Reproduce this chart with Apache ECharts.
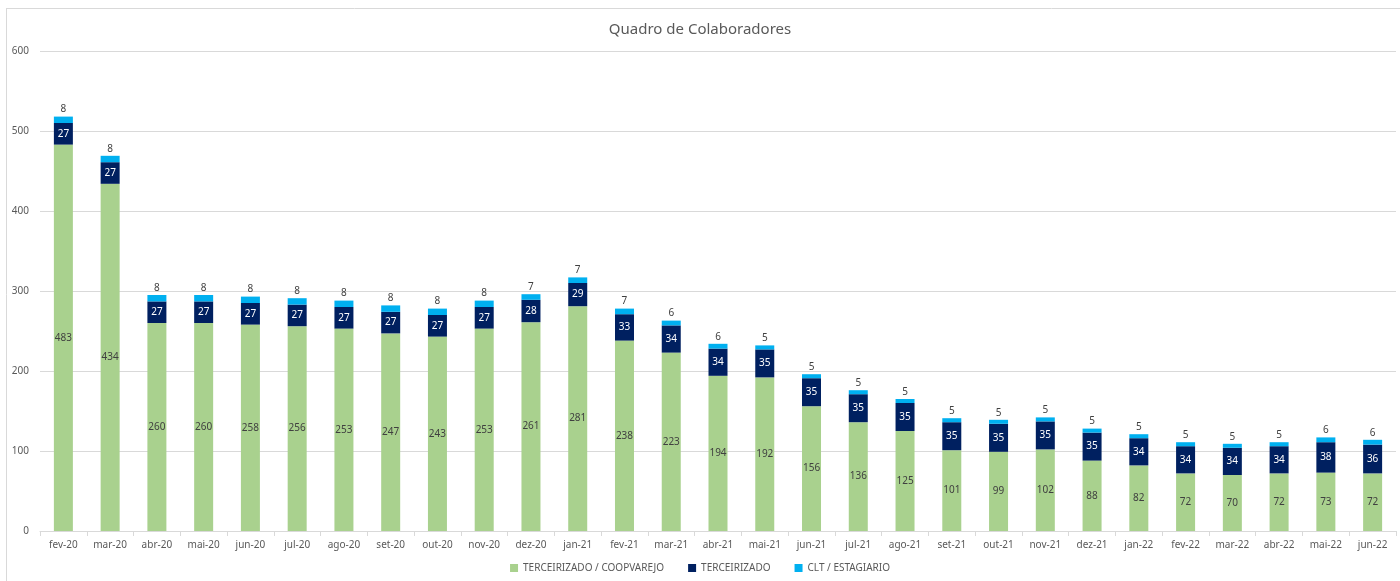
<!DOCTYPE html>
<html>
<head>
<meta charset="utf-8">
<script src="https://cdn.jsdelivr.net/npm/echarts@6/dist/echarts.min.js"></script>
<style>
html,body{margin:0;padding:0;background:#fff;overflow:hidden;}
#c{width:1400px;height:581px;}
</style>
</head>
<body>
<div id="c"></div>
<script>
const categories = ['fev-20','mar-20','abr-20','mai-20','jun-20','jul-20','ago-20','set-20','out-20','nov-20','dez-20','jan-21','fev-21','mar-21','abr-21','mai-21','jun-21','jul-21','ago-21','set-21','out-21','nov-21','dez-21','jan-22','fev-22','mar-22','abr-22','mai-22','jun-22'];
const terceirizadoCoop = [483,434,260,260,258,256,253,247,243,253,261,281,238,223,194,192,156,136,125,101,99,102,88,82,72,70,72,73,72];
const terceirizado = [27,27,27,27,27,27,27,27,27,27,28,29,33,34,34,35,35,35,35,35,35,35,35,34,34,34,34,38,36];
const cltEstagiario = [8,8,8,8,8,8,8,8,8,8,7,7,7,6,6,5,5,5,5,5,5,5,5,5,5,5,5,6,6];
const yTicks = [0,100,200,300,400,500,600];

const font = "'Noto Sans', 'Open Sans', sans-serif";
const chart = echarts.init(document.getElementById('c'));
chart.setOption({
  animation: false,
  textStyle: {fontFamily: font},
  title: {
    text: 'Quadro de Colaboradores',
    left: 'center', top: 17,
    textStyle: {fontSize: 15, fontWeight: 'normal', color: '#595959', fontFamily: font}
  },
  graphic: [
    {type: 'line', shape: {x1: 6, y1: 8.5, x2: 1400, y2: 8.5}, style: {stroke: '#d9d9d9', lineWidth: 1}},
    {type: 'line', shape: {x1: 6.5, y1: 8, x2: 6.5, y2: 581}, style: {stroke: '#d9d9d9', lineWidth: 1}}
  ],
  legend: {
    bottom: 3, left: 'center',
    itemWidth: 8, itemHeight: 8, itemGap: 24,
    icon: 'rect',
    textStyle: {fontSize: 10, color: '#595959', fontFamily: font}
  },
  grid: {left: 40, right: 4, top: 51, bottom: 50},
  xAxis: {
    type: 'category',
    data: categories,
    axisLine: {lineStyle: {color: '#d9d9d9'}},
    axisTick: {show: true, lineStyle: {color: '#d9d9d9'}, length: 5},
    axisLabel: {fontSize: 10, color: '#595959', margin: 9, interval: 0}
  },
  yAxis: {
    type: 'value',
    min: yTicks[0], max: yTicks[yTicks.length - 1], interval: 100,
    axisLine: {show: false},
    axisTick: {show: false},
    splitLine: {lineStyle: {color: '#d9d9d9'}},
    axisLabel: {fontSize: 10, color: '#595959', margin: 11}
  },
  series: [
    {
      name: 'TERCEIRIZADO / COOPVAREJO', type: 'bar', stack: 'total',
      data: terceirizadoCoop, barWidth: 19,
      itemStyle: {color: '#A9D18E'},
      label: {show: true, position: 'inside', fontSize: 10, color: '#404040'}
    },
    {
      name: 'TERCEIRIZADO', type: 'bar', stack: 'total',
      data: terceirizado, barWidth: 19,
      itemStyle: {color: '#002060'},
      label: {show: true, position: 'inside', fontSize: 10, color: '#ffffff'}
    },
    {
      name: 'CLT / ESTAGIARIO', type: 'bar', stack: 'total',
      data: cltEstagiario, barWidth: 19,
      itemStyle: {color: '#00B0F0'},
      label: {show: true, position: 'top', distance: 2, fontSize: 10, color: '#404040'}
    }
  ]
});
</script>
</body>
</html>
